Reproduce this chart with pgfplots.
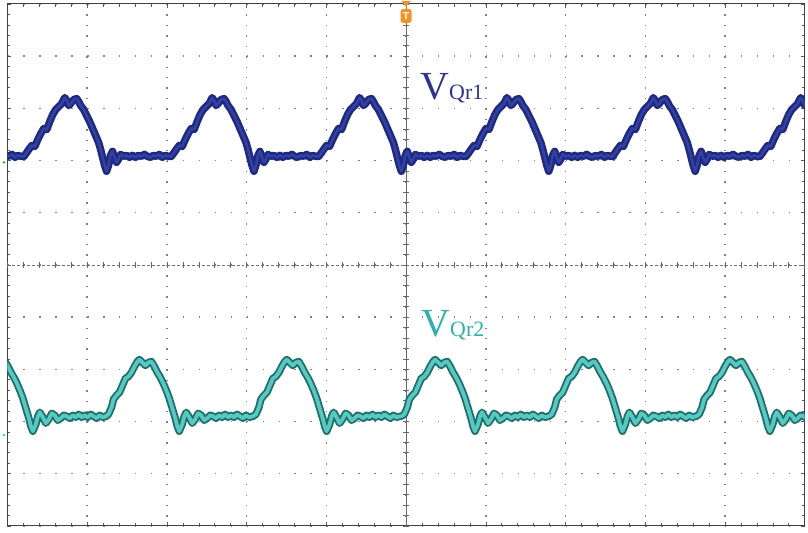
\documentclass[border=0pt]{standalone}
\usepackage{pgfplots}
\pgfplotsset{compat=1.18}
\usepackage{pgfplotstable}
\usepackage{fontspec}
\setmainfont{Liberation Serif}
\definecolor{upout}{HTML}{1E2A82}
\definecolor{upin}{HTML}{3342A2}
\definecolor{loout}{HTML}{1F6E6A}
\definecolor{loin}{HTML}{55C9C2}
\definecolor{lblone}{HTML}{2E3192}
\definecolor{lbltwo}{HTML}{2FB0A8}
\definecolor{trig}{HTML}{F39325}

% upper trace (V_Qr1): one period, x relative to the dip, y in screen px
\pgfplotstableread{
x y
-83 157
-80 153
-78 150
-75 146
-72 147
-69 140
-66 134
-63 129
-60 130
-57 122
-54 115
-51 110
-48 107
-45 104
-42 98
-40 101
-38 106
-36 104
-33 100
-30 99
-28 102
-26 106
-23 110
-20 116
-17 122
-14 129
-11 136
-8 143
-6 150
-4 158
-2 166
0 172
2 166
4 156
6 152
8 158
10 163
12 160
14 155
17 157
20 156
23 158
26 156
29 158
32 156
35 157
38 155
41 157
44 158
47 156
50 157
53 155
56 158
59 156
62 157
65 157
}\uppertab

% lower trace (V_Qr2)
\pgfplotstableread{
x y
-74 418
-71 416
-68 409
-66 401
-63 397
-60 394
-57 387
-54 380
-51 378
-48 374
-45 368
-42 363
-40 361
-37 364
-34 367
-31 364
-28 363
-25 368
-22 374
-19 379
-16 385
-13 392
-10 400
-7 410
-4 420
-2 428
0 433
3 426
5 418
7 414
10 419
13 425
16 421
19 415
22 417
25 422
28 420
31 417
34 418
37 420
40 417
43 419
46 416
49 419
52 417
55 419
58 416
61 418
64 420
67 417
70 419
74 418
}\lowertab

\begin{document}
\begin{tikzpicture}
\begin{axis}[name=ax,
  scale only axis, width=800.5pt, height=524pt,
  xmin=7.5, xmax=808, ymin=4, ymax=528, y dir=reverse,
  axis lines=box,
  xtick={7.5,87.55,...,808.1}, ytick={4,56.4,...,528.1},
  xticklabels={}, yticklabels={},
  minor x tick num=4, minor y tick num=4,
  tick align=inside, major tick length=4pt, minor tick length=3pt,
  tick style={black!65, line width=0.6pt},
  grid=major,
  x grid style={black!50, line width=1.4pt, dash pattern=on 1.4pt off 9.08pt},
  y grid style={black!50, line width=1.4pt, dash pattern=on 1.4pt off 14.61pt},
  axis line style={black!75, line width=1pt},
  clip mode=individual,
]
% centre cross
\draw[black!60, line width=0.8pt] (axis cs:407.75,4) -- (axis cs:407.75,528);
\draw[black!60, line width=0.6pt] foreach \k in {0,...,50} {(axis cs:404.75,{4+\k*10.48}) -- (axis cs:410.75,{4+\k*10.48})};
\draw[black!55, line width=0.8pt, dash pattern=on 3pt off 2pt] (axis cs:7.5,266) -- (axis cs:808,266);
\draw[black!60, line width=0.6pt] foreach \k in {0,...,50} {(axis cs:{7.5+\k*16.01},263) -- (axis cs:{7.5+\k*16.01},269)};

% traces
\pgfplotsinvokeforeach{-41,107,255,403,551,698,846}{
  \addplot[upout, line width=7.5pt, line join=round, line cap=round] table[x expr=\thisrow{x}+(#1), y=y] {\uppertab};
}
\pgfplotsinvokeforeach{-41,107,255,403,551,698,846}{
  \addplot[upin, line width=2.5pt, line join=round, line cap=round] table[x expr=\thisrow{x}+(#1), y=y] {\uppertab};
}
\pgfplotsinvokeforeach{33,180,328,477,625,773}{
  \addplot[loout, line width=7.5pt, line join=round, line cap=round] table[x expr=\thisrow{x}+(#1), y=y] {\lowertab};
}
\pgfplotsinvokeforeach{33,180,328,477,625,773}{
  \addplot[loin, line width=3.8pt, line join=round, line cap=round] table[x expr=\thisrow{x}+(#1), y=y] {\lowertab};
}

% trigger marker
\fill[trig] (axis cs:403,1) -- (axis cs:412.5,1) -- (axis cs:407.75,7) -- cycle;
\node[fill=trig, rounded corners=2.5pt, minimum width=11pt, minimum height=14pt, inner sep=0pt, text=white, font=\sffamily\bfseries\fontsize{10}{10}\selectfont] at (axis cs:407.75,16) {T};

% channel ground markers
\fill[green!60!black] (axis cs:4,163) circle (1.2pt);
\fill[loin] (axis cs:4,437) circle (1.5pt);

% labels
\node[anchor=base west, inner sep=0pt, text=lblone] at (axis cs:422,100) {\fontsize{40}{40}\selectfont V\fontsize{22}{22}\selectfont Qr1};
\node[anchor=base west, inner sep=0pt, text=lbltwo] at (axis cs:423,338) {\fontsize{40}{40}\selectfont V\fontsize{22}{22}\selectfont Qr2};
\end{axis}
\path ([shift={(-7.5pt,-2pt)}]ax.south west) rectangle ([shift={(0pt,4pt)}]ax.north east);
\end{tikzpicture}
\end{document}
